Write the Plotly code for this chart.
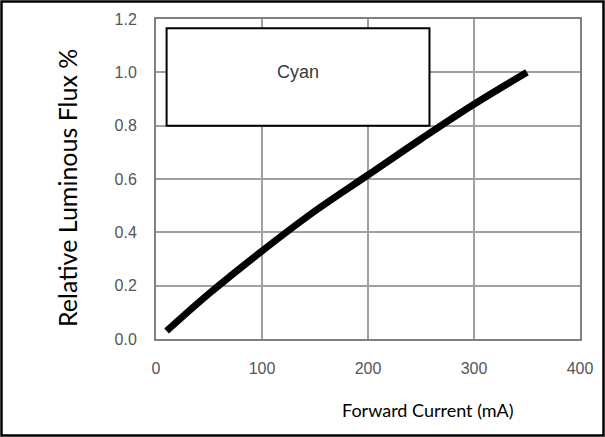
import plotly.graph_objects as go

# Data
current_ma = [10, 50, 100, 150, 200, 250, 300, 350]
relative_flux = [0.03, 0.17, 0.33, 0.48, 0.615, 0.75, 0.88, 1.0]
x_ticks = [0, 100, 200, 300, 400]
y_ticks = [0.0, 0.2, 0.4, 0.6, 0.8, 1.0, 1.2]
series_name = "Cyan"

W, H = 605, 437
L, R, T, B = 156, 25, 19, 98
pw, ph = W - L - R, H - T - B

def px_x(x):
    return (x - L) / pw

def px_y(y):
    return (H - B - y) / ph

fig = go.Figure()
fig.add_trace(go.Scatter(
    x=current_ma, y=relative_flux, mode="lines",
    line=dict(color="black", width=7, shape="spline"),
    showlegend=False, hoverinfo="skip"))

axis_common = dict(
    showgrid=True, gridcolor="#a0a0a0", gridwidth=1.5,
    showline=True, linecolor="#808080", linewidth=2, mirror=True,
    zeroline=False, ticks="", ticklabelstandoff=14,
    tickfont=dict(family="Liberation Sans, Arial", size=16, color="#555555"),
)
fig.update_xaxes(range=[0, 400], tickvals=x_ticks, **axis_common)
fig.update_yaxes(range=[0, 1.2], tickvals=y_ticks, tickformat=".1f", **axis_common)

fig.update_layout(
    width=W, height=H,
    margin=dict(l=L, r=R, t=T, b=B),
    paper_bgcolor="white", plot_bgcolor="white",
    shapes=[
        dict(type="rect", xref="x", yref="y", x0=10, x1=258, y0=0.8, y1=1.165,
             line=dict(color="black", width=2), fillcolor="white", layer="above"),
        dict(type="rect", xref="paper", yref="paper",
             x0=px_x(1.5), x1=px_x(W - 1.5), y0=px_y(H - 1.5), y1=px_y(1.5),
             line=dict(color="black", width=2.5), fillcolor="rgba(0,0,0,0)", layer="above"),
    ],
    annotations=[
        dict(text=series_name, xref="x", yref="y", x=134, y=1.0, showarrow=False,
             xanchor="center", yanchor="middle",
             font=dict(family="Liberation Sans, Arial", size=18, color="#3a3a3a")),
        dict(text="Forward Current (mA)", xref="paper", yref="paper",
             x=px_x(428), y=px_y(410), showarrow=False,
             xanchor="center", yanchor="middle",
             font=dict(family="Lato, Open Sans", size=18, color="black")),
        dict(text="Relative Luminous Flux %", xref="paper", yref="paper",
             x=px_x(67), y=px_y(188), showarrow=False, textangle=-90,
             xanchor="center", yanchor="middle",
             font=dict(family="Lato, Open Sans", size=25, color="black")),
    ],
)

fig.write_html("out.html", config={"displayModeBar": False},
               post_script="document.body.style.margin='0px';")
